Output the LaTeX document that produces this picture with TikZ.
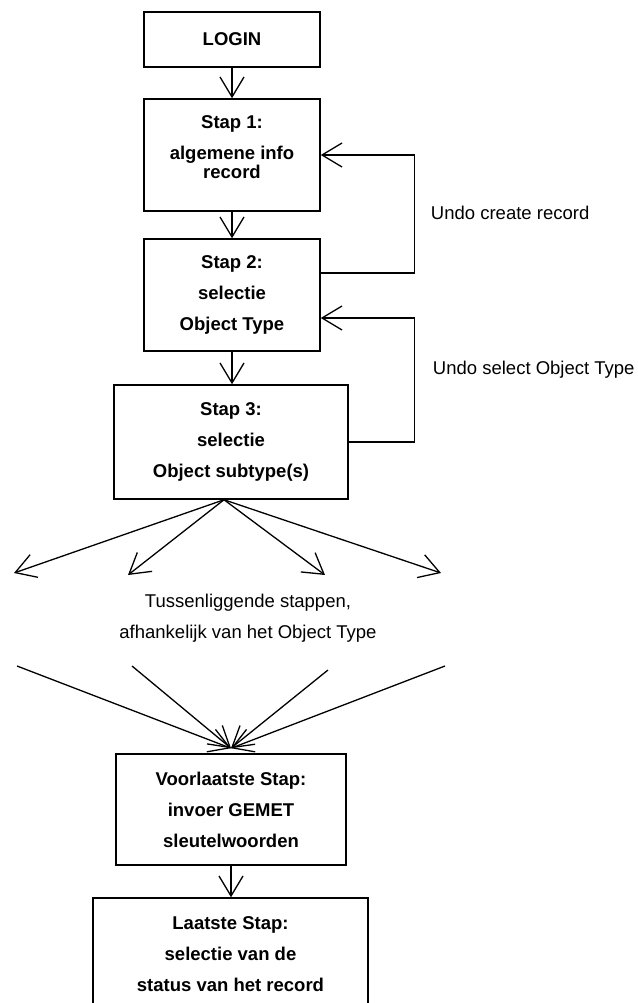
\documentclass[tikz,border=0pt]{standalone}
\usepackage{fontspec}
\setmainfont{Liberation Sans}
\usetikzlibrary{calc}
\usetikzlibrary{arrows.meta}

\begin{document}
\begin{tikzpicture}[x = 1pt, y = -1pt, > = {Straight Barb[length=20pt, width=24pt]}, line width = 1.3pt,
  stapbox/.style = {draw, rectangle, line width=1.5pt, align=center, inner sep=0pt,
                    font=\bfseries\fontsize{18.5}{31}\selectfont},
  uitleg/.style  = {align=center, font=\fontsize{18.5}{31}\selectfont}]
\useasboundingbox (0,0) rectangle (637,1003);
\clip (0,0) rectangle (637,1003);

\node[stapbox, minimum width=176pt, minimum height=55pt]  (login)   at (232,39.5)  {LOGIN};
\node[stapbox, minimum width=176pt, minimum height=112pt] (stap1)   at (232,155)   {Stap 1:\\algemene info\\[-12pt]record\\[-15pt]\mbox{}};
\node[stapbox, minimum width=176pt, minimum height=112pt] (stap2)   at (232,295)   {Stap 2:\\selectie\\Object Type};
\node[stapbox, minimum width=234pt, minimum height=114pt] (stap3)   at (231,442)   {Stap 3:\\selectie\\Object subtype(s)};
\node[stapbox, minimum width=230pt, minimum height=111pt] (voorl)   at (231,809.5) {Voorlaatste Stap:\\invoer GEMET\\sleutelwoorden};
\node[stapbox, minimum width=275pt, minimum height=112pt] (laatste) at (230.5,954) {Laatste Stap:\\selectie van de\\status van het record};

\draw[->] (login) -- (stap1);
\draw[->] (stap1) -- (stap2);
\draw[->] (stap2.south) -- (stap2.south |- stap3.north);
\draw[->] (voorl.south) -- (voorl.south |- laatste.north);

% terug naar vorige stap
\draw[->] ([yshift=22pt]stap2.east) -- ++(94,0) |- (stap1.east);
\draw[->] (stap3.east) -- ++(66,0) |- ([yshift=-23pt]stap2.east);
\node[uitleg, anchor=west] (undo1) at (427,213) {Undo create record};
\node[uitleg, anchor=west] (undo2) at (429,370) {Undo select Object Type};

% tussenliggende stappen
\foreach \x/\y [count=\i] in {14/573, 128/575, 325/575, 441/573}
  { \coordinate (uit\i) at (\x,\y);
    \draw[->] ([xshift=-7pt]stap3.south) -- (uit\i); }
\node[uitleg] (tussen) at (248,618.5) {Tussenliggende stappen,\\afhankelijk van het Object Type};
\foreach \x/\y [count=\i] in {17/666, 132/666, 328/670, 445/666}
  { \coordinate (naar\i) at (\x,\y);
    \draw[->] (naar\i) -- ([yshift=5pt]voorl.north); }

\end{tikzpicture}
\end{document}
